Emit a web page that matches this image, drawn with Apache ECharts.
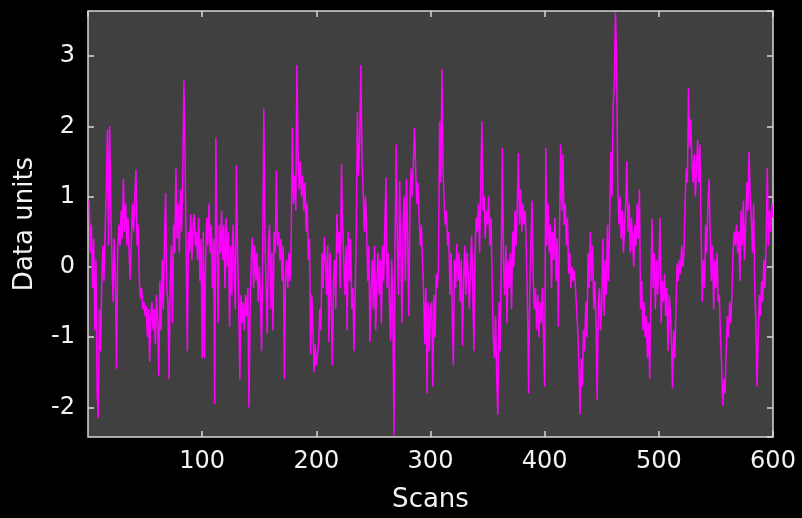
<!DOCTYPE html>
<html>
<head>
<meta charset="utf-8">
<script src="https://cdn.jsdelivr.net/npm/echarts@6/dist/echarts.min.js"></script>
<style>html,body{margin:0;padding:0;background:#000;}#c{width:802px;height:518px;}</style>
</head>
<body>
<div id="c"></div>
<script>
// Values, 100 scans per block
const scans001 = [0.95,0.2,0.6,-0.3,0.4,-0.9,0.1,-1.8,-2.15,-0.6,-1.2,-0.3,0.3,-0.2,0.5,1.1,1.95,0.3,2.0,0.8,0.1,-0.5,0.4,-0.2,-1.45,0.2,0.6,0.3,0.8,0.4,1.25,0.5,0.9,0.3,0.7,0.2,-0.18,0.4,0.9,0.5,1.0,1.38,0.3,0.6,-0.2,-0.45,-0.3,-0.6,-0.5,-0.7,-0.55,-1.0,-0.6,-1.35,-0.7,-0.5,-0.9,-0.6,-1.1,-0.4,-0.8,-1.55,-0.2,-0.9,0.1,-0.6,0.4,1.05,-0.3,-0.5,-1.6,-0.2,0.3,-0.8,0.6,0.2,1.4,0.4,0.9,0.2,1.1,0.5,1.3,2.65,1.6,0.2,-1.2,0.5,0.2,0.75,0.1,0.6,0.75,0.3,0.5,0.1,0.7,-0.2,0.4,-1.3];
const scans101 = [0.5,-1.3,0.1,0.7,0.3,0.9,0.2,0.6,-0.3,0.4,-1.95,1.84,0.3,-0.8,0.6,0.2,0.8,0.1,0.6,-0.3,0.7,0.0,0.5,-0.85,0.3,-0.4,0.6,0.1,-0.6,1.45,0.2,-0.5,-1.6,-0.4,-0.8,-0.5,-0.9,-0.4,-0.7,-0.3,-2.0,-0.6,0.1,0.42,-0.3,0.3,-0.2,0.2,-0.5,0.0,-0.4,-1.2,0.1,2.25,0.4,-0.3,-0.95,0.3,0.6,-0.6,0.2,-0.9,0.5,0.2,1.37,0.3,0.5,0.1,0.4,-0.2,0.3,-1.6,-0.1,0.1,-0.3,0.2,-0.2,0.4,1.98,0.9,1.3,0.8,2.87,1.6,1.1,1.5,1.0,1.3,0.8,1.2,0.5,0.9,0.1,0.4,-1.24,-0.4,-0.9,-1.5,-1.1,-1.4];
const scans201 = [-1.4,-1.1,-0.6,-0.9,0.2,-0.3,0.43,0.1,-0.4,0.3,-1.07,0.2,-0.5,-1.4,-0.2,0.1,-0.6,0.75,0.2,0.5,-0.3,1.46,0.6,0.1,-0.4,0.3,-0.9,0.5,-0.2,0.4,-0.6,-0.3,-1.2,-0.4,0.5,2.2,1.3,1.8,2.87,1.5,1.1,0.5,1.0,0.6,-0.2,0.3,-1.07,-0.3,0.1,-0.6,0.3,-0.9,-0.2,0.2,-0.4,0.1,-0.8,0.3,-0.2,0.6,1.27,-0.3,0.2,-0.5,-1.05,0.1,-0.6,-2.4,0.4,1.74,0.3,-0.4,1.22,0.2,-0.8,0.6,1.0,-0.2,1.25,0.4,-0.7,0.9,1.4,1.0,1.5,1.98,1.4,0.9,1.2,0.7,0.3,0.6,0.1,-0.4,-1.1,-0.3,-1.8,-0.5,-1.2,-0.6];
const scans301 = [-0.5,-1.7,-0.4,-1.0,-0.1,-0.3,0.0,2.07,1.2,2.82,1.4,0.9,0.6,0.8,0.3,0.5,-0.4,0.2,-0.6,-1.4,0.1,-0.3,0.33,-0.2,0.2,-0.5,0.1,-1.12,-0.2,0.3,-0.4,0.2,-0.1,-0.6,0.0,0.45,-0.3,-1.2,0.2,0.7,0.5,0.9,0.2,1.2,2.07,0.8,1.0,0.4,0.8,0.6,1.0,0.3,0.7,-0.2,-1.0,-1.3,-0.7,-1.6,-2.1,-0.5,-1.2,0.2,1.69,0.0,-0.4,0.3,-0.8,0.1,-0.3,0.2,-0.6,0.5,0.0,0.8,0.3,0.9,1.62,0.6,1.1,0.5,0.9,0.6,0.8,0.2,-0.6,-1.8,-0.3,0.4,0.94,-0.2,-0.6,-0.3,-0.9,-0.4,-1.0,-0.5,-0.8,-0.3,-1.0,-1.7];
const scans401 = [1.69,0.3,0.9,0.2,0.6,-0.3,0.5,0.1,0.7,-0.2,0.4,-0.85,0.5,1.74,0.8,1.6,0.6,0.9,0.3,0.7,-0.1,0.2,-0.3,0.0,-0.2,-0.05,-0.3,-0.6,-0.9,-1.4,-2.1,-1.3,-1.7,-0.9,-1.2,-0.5,-1.0,0.2,-0.3,0.5,-0.2,0.3,-0.6,-0.2,-0.8,-1.9,-0.5,-0.3,-0.9,-0.5,0.4,-0.7,0.1,-0.4,0.6,-0.2,0.7,1.64,1.0,2.3,2.6,3.62,3.0,1.2,0.6,1.0,0.4,0.8,0.2,0.6,0.9,1.5,0.5,0.9,0.2,0.7,0.4,0.0,0.6,0.3,0.9,0.4,1.1,-0.6,-0.2,-0.9,-0.5,-1.0,-0.7,-1.3,-0.8,-1.6,-0.4,0.68,-0.3,0.2,-0.6,0.1,-0.4,0.0];
const scans501 = [0.7,-0.8,-0.2,-0.5,-0.1,-0.7,-0.3,-1.2,-0.4,-0.6,-1.0,-1.73,-0.9,-1.3,-0.6,0.05,-0.2,0.1,-0.1,0.3,0.0,0.2,0.9,1.4,1.2,2.54,1.7,2.1,1.5,1.2,1.6,1.0,1.4,1.8,1.2,1.74,0.5,-0.5,0.1,-0.3,0.6,0.2,0.9,1.25,0.4,-0.2,0.3,-0.6,0.1,-0.3,0.2,-0.5,-0.4,-1.0,-1.4,-1.97,-1.6,-1.8,-1.2,-0.7,-1.0,-0.5,-0.8,-0.4,0.2,0.5,0.3,0.6,0.2,0.5,-0.2,0.8,0.3,0.94,0.1,0.6,1.2,0.8,1.64,1.0,0.7,0.2,0.9,-0.3,-0.8,-1.7,-1.0,-0.4,-0.7,-0.2,-0.5,0.1,-0.3,0.4,1.41,0.3,0.8,0.5,0.9,0.7];

const xTicks = [100, 200, 300, 400, 500, 600];
const yTicks = [-2, -1, 0, 1, 2, 3];

const values = [].concat(scans001, scans101, scans201, scans301, scans401, scans501);
const points = values.map((v, i) => [i + 1, v]);

const FONT = 'DejaVu Sans';
const txt = '#f2f2f2';
const frame = '#d8d8d8';

const chart = echarts.init(document.getElementById('c'), null, {renderer: 'canvas'});
const yLabel = v => (yTicks.indexOf(Math.round(v * 100) / 100) >= 0 ? String(v) : '');
const tickStyle = {show: true, inside: true, length: 6, lineStyle: {color: frame, width: 1.5}};
chart.setOption({
  backgroundColor: '#000000',
  animation: false,
  grid: {left: 88, right: 29, top: 11, bottom: 81, show: true, backgroundColor: '#404040', borderColor: frame, borderWidth: 1.5, containLabel: false},
  xAxis: [{
    type: 'value', min: 0, max: 600, interval: 100, position: 'bottom',
    name: 'Scans', nameLocation: 'middle', nameGap: 50,
    nameTextStyle: {color: txt, fontFamily: FONT, fontSize: 26},
    axisLine: {show: false, onZero: false},
    axisTick: tickStyle,
    axisLabel: {color: txt, fontFamily: FONT, fontSize: 24, margin: 13, showMinLabel: false, formatter: v => (xTicks.indexOf(v) >= 0 ? String(v) : '')},
    splitLine: {show: false}
  }, {
    type: 'value', min: 0, max: 600, interval: 100, position: 'top',
    axisLine: {show: false, onZero: false},
    axisTick: tickStyle,
    axisLabel: {show: false}, splitLine: {show: false}
  }],
  yAxis: [{
    type: 'value', min: -2.42, max: 3.64, position: 'left',
    name: 'Data units', nameLocation: 'middle', nameGap: 50, nameRotate: 90,
    nameTextStyle: {color: txt, fontFamily: FONT, fontSize: 26},
    axisLine: {show: false, onZero: false},
    axisTick: tickStyle,
    axisLabel: {color: txt, fontFamily: FONT, fontSize: 24, margin: 13, showMinLabel: false, showMaxLabel: false, formatter: yLabel},
    splitLine: {show: false}
  }, {
    type: 'value', min: -2.42, max: 3.64, position: 'right',
    axisLine: {show: false, onZero: false},
    axisTick: tickStyle,
    axisLabel: {show: false}, splitLine: {show: false}
  }],
  series: [{
    type: 'line', data: points, xAxisIndex: 0, yAxisIndex: 0,
    showSymbol: false, symbol: 'none',
    lineStyle: {color: '#ff00ff', width: 1.5},
    clip: true
  }]
});
</script>
</body>
</html>
